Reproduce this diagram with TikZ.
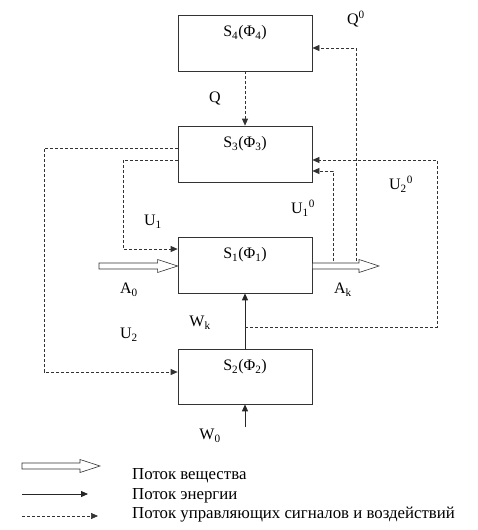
\documentclass[tikz,border=0pt]{standalone}
\usepackage{fontspec}
\setmainfont{Liberation Serif}
\usetikzlibrary{arrows.meta,calc}
\tikzset{
  box/.style={draw=black!80, line width=0.7pt, minimum width=134pt, minimum height=56pt, inner sep=0pt},
  lbl/.style={font=\fontsize{16}{18}\selectfont, inner sep=0pt},
  leg/.style={font=\fontsize{16.8}{19}\selectfont, inner sep=0pt, anchor=west},
  ctrl/.style={draw=black!80, line width=0.7pt, dash pattern=on 3pt off 2pt, -{Triangle[length=7pt,width=6pt]}},
  energy/.style={draw=black!85, line width=0.8pt, -{Triangle[length=7pt,width=6pt]}},
  matter/.style={draw=black!80, line width=0.6pt, fill=white},
}
\newcommand{\fatarrow}[2]{% #1 start coord, #2 tip coord
  \draw[matter] ($(#1)+(0,-3)$) -- ($(#2)+(-20,-3)$) -- ($(#2)+(-20,-6.5)$) -- (#2) -- ($(#2)+(-20,6.5)$) -- ($(#2)+(-20,3)$) -- ($(#1)+(0,3)$) -- cycle;}
\begin{document}
\begin{tikzpicture}[x=1pt,y=-1pt]
\useasboundingbox (0,0) rectangle (477,530);
% boxes
\node[box] (s4) at (245,43) {};
\node[box] (s3) at (245,154) {};
\node[box] (s1) at (245,265) {};
\node[box, minimum height=55pt] (s2) at (245,376.5) {};
\node[lbl] (t4) at (245,33) {S\textsubscript{4}(Φ\textsubscript{4})};
\node[lbl] (t3) at (245,144) {S\textsubscript{3}(Φ\textsubscript{3})};
\node[lbl] (t1) at (245,255) {S\textsubscript{1}(Φ\textsubscript{1})};
\node[lbl] (t2) at (245,367) {S\textsubscript{2}(Φ\textsubscript{2})};
% matter flows
\coordinate (a0s) at (99,266);
\coordinate (a0t) at ([yshift=-1pt]s1.west);
\coordinate (aks) at ([yshift=-1pt]s1.east);
\coordinate (akt) at (379,266);
\fatarrow{a0s}{a0t}
% control loops from Ak
\coordinate (q0f) at (356,266);
\coordinate (u10f) at (333,266);
\draw[ctrl] (q0f) |- ([yshift=-5pt]s4.east);
\draw[ctrl] (u10f) |- ([yshift=-17pt]s3.east);
\fatarrow{aks}{akt}
% Q
\draw[ctrl] (s4.south) -- (s3.north);
% U1, U2
\coordinate (u1c) at (123,160);
\coordinate (u2c) at (44,148);
\draw[ctrl] ([yshift=-6pt]s3.west) -| (u1c |- 0,249) -- ([yshift=16pt]s1.west);
\draw[ctrl] ([yshift=6pt]s3.west) -| (u2c |- 0,372) -- ([yshift=4.5pt]s2.west);
% energy
\draw[energy] (s2.north) -- (s1.south);
\coordinate (w0) at (245,427);
\draw[energy] (w0) -- (s2.south);
% U2^0 loop
\coordinate (u20f) at (245,327);
\coordinate (u20c) at (437,327);
\draw[ctrl] (u20f) -- (u20c) |- ([yshift=-6pt]s3.east);
% labels
\node[lbl] (lq0) at (356,19) {Q\textsuperscript{0}};
\node[lbl] (lq) at (215,98) {Q};
\node[lbl] (lu1) at (153,222) {U\textsubscript{1}};
\node[lbl] (lu10) at (303,208) {U\textsubscript{1}\textsuperscript{0}};
\node[lbl] (lu20) at (401,184) {U\textsubscript{2}\textsuperscript{0}};
\node[lbl] (la0) at (129,290) {A\textsubscript{0}};
\node[lbl] (lak) at (343,290) {A\textsubscript{k}};
\node[lbl] (lwk) at (200,323) {W\textsubscript{k}};
\node[lbl] (lu2) at (129,335) {U\textsubscript{2}};
\node[lbl] (lw0) at (210,436) {W\textsubscript{0}};
% legend
\coordinate (l1s) at (22,466);
\coordinate (l1t) at (100,466);
\fatarrow{l1s}{l1t}
\coordinate (l2s) at (22,494);
\coordinate (l2t) at (88,494);
\draw[energy] (l2s) -- (l2t);
\coordinate (l3s) at (22,516);
\coordinate (l3t) at (98,516);
\draw[ctrl] (l3s) -- (l3t);
\node[leg] (g1) at (132,476) {Поток вещества};
\node[leg] (g2) at (132,496) {Поток энергии};
\node[leg] (g3) at (132,515) {Поток управляющих сигналов и воздействий};
\end{tikzpicture}
\end{document}
